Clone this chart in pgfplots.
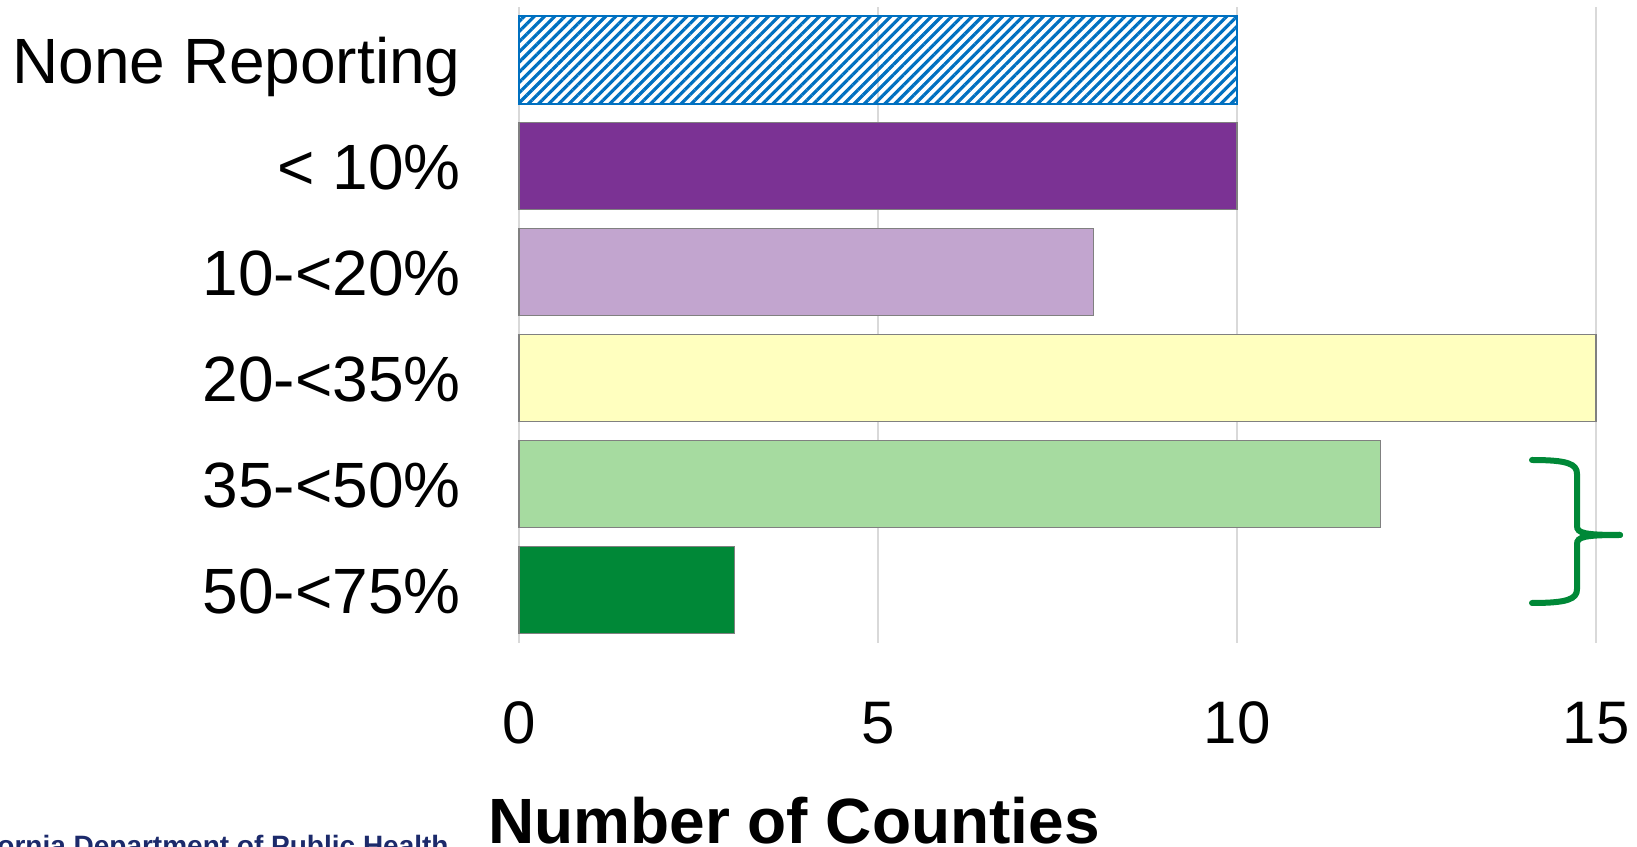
\documentclass[border=0pt]{standalone}
\usepackage{fontspec}
\setmainfont{Liberation Sans}
\usepackage{pgfplots}
\pgfplotsset{compat=1.18}
\usetikzlibrary{patterns.meta}
\definecolor{hatchblue}{HTML}{0070C0}
\definecolor{c1}{HTML}{7B3294}
\definecolor{c2}{HTML}{C2A5CF}
\definecolor{c3}{HTML}{FFFFBF}
\definecolor{c4}{HTML}{A6DBA0}
\definecolor{c5}{HTML}{008837}
\definecolor{gridgray}{HTML}{D9D9D9}
\definecolor{bordergray}{HTML}{808080}
\definecolor{navy}{HTML}{1C2A6B}
\begin{document}
\begin{tikzpicture}
\useasboundingbox (0,0) rectangle (818.5pt,423pt);
\begin{axis}[
  at={(259.5pt,101.5pt)}, anchor=south west,
  scale only axis, width=538.5pt, height=318pt,
  xmin=0, xmax=15, ymin=-0.5, ymax=5.5, y dir=reverse,
  xbar, bar shift=0pt, bar width=0.823,
  xtick={0,5,10,15}, xticklabels={0,5,10,15},
  ytick={0,1,2,3,4,5},
  yticklabels={None Reporting,< 10\%,10-<20\%,20-<35\%,35-<50\%,50-<75\%},
  major tick length=0pt,
  xmajorgrids, grid style={gridgray, line width=1.1pt},
  axis line style={draw=none},
  /pgf/number format/assume math mode=true,
  xticklabel style={font=\fontsize{30}{36}\selectfont, inner sep=0pt, anchor=base, yshift=-50pt},
  yticklabel style={font=\fontsize{32}{38}\selectfont, inner sep=0pt, anchor=base east, xshift=-29pt, yshift=-11.5pt},
  clip=false,
]
\addplot[draw=hatchblue, line width=1pt, pattern={Lines[angle=45,distance=3.6pt,line width=1.6pt]}, pattern color=hatchblue] coordinates {(10,0)};
\addplot[draw=bordergray, line width=0.75pt, fill=c1] coordinates {(10,1)};
\addplot[draw=bordergray, line width=0.75pt, fill=c2] coordinates {(8,2)};
\addplot[draw=bordergray, line width=0.75pt, fill=c3] coordinates {(15,3)};
\addplot[draw=bordergray, line width=0.75pt, fill=c4] coordinates {(12,4)};
\addplot[draw=bordergray, line width=0.75pt, fill=c5] coordinates {(3,5)};
\end{axis}
% brace annotation
\draw[c5, line width=3pt, line cap=round]
  (766pt,193pt) .. controls (784pt,193pt) and (788.5pt,191pt) .. (788.5pt,186pt)
  -- (788.5pt,160pt) .. controls (788.5pt,156.5pt) and (792pt,155.5pt) .. (810pt,155.5pt);
\draw[c5, line width=3pt, line cap=round]
  (766pt,121.5pt) .. controls (784pt,121.5pt) and (788.5pt,123.5pt) .. (788.5pt,128.5pt)
  -- (788.5pt,151pt) .. controls (788.5pt,154.5pt) and (792pt,155.5pt) .. (810pt,155.5pt);
% axis title
\node[anchor=base, inner sep=0pt, font=\bfseries\fontsize{32}{38}\selectfont] at (397pt,1.5pt) {Number of Counties};
% footer
\node[anchor=base east, inner sep=0pt, text=navy, font=\bfseries\fontsize{14}{17}\selectfont] at (224.5pt,-4.5pt) {California Department of Public Health};
\end{tikzpicture}
\end{document}
